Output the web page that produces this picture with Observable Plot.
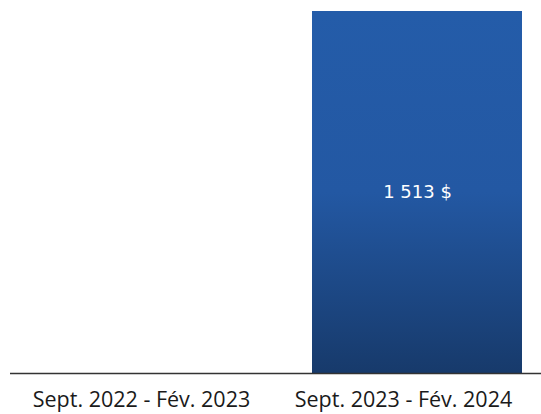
<!DOCTYPE html>
<html>
<head>
<meta charset="utf-8">
<script src="https://cdn.jsdelivr.net/npm/d3@7"></script>
<script src="https://cdn.jsdelivr.net/npm/@observablehq/plot@0.6"></script>
<style>
  html, body { margin: 0; padding: 0; background: #fff; }
  #chart svg { display: block; }
</style>
</head>
<body>
<div id="chart"></div>
<script>
const periods = ["Sept. 2022 - Fév. 2023", "Sept. 2023 - Fév. 2024"];
const amounts = [null, 1513];
const valueLabels = ["", "1 513 $"];

const data = periods.map((p, i) => ({period: p, amount: amounts[i], label: valueLabels[i]}));
const bars = data.filter(d => d.amount != null);

function gradientDefs() {
  const ns = "http://www.w3.org/2000/svg";
  const defs = document.createElementNS(ns, "defs");
  const lg = document.createElementNS(ns, "linearGradient");
  lg.setAttribute("id", "barGrad");
  lg.setAttribute("x1", "0"); lg.setAttribute("y1", "0");
  lg.setAttribute("x2", "0"); lg.setAttribute("y2", "1");
  [["0%", "#245ca9"], ["50%", "#2358a3"], ["100%", "#173a6b"]].forEach(([o, c]) => {
    const s = document.createElementNS(ns, "stop");
    s.setAttribute("offset", o);
    s.setAttribute("stop-color", c);
    lg.appendChild(s);
  });
  defs.appendChild(lg);
  return defs;
}

const chart = Plot.plot({
  width: 541,
  height: 414,
  marginTop: 11,
  marginBottom: 41,
  marginLeft: 10,
  marginRight: 0,
  style: {fontFamily: "'Open Sans', sans-serif", background: "#fff"},
  x: {domain: periods, range: [24, 548], paddingInner: 0.2, paddingOuter: 0.1, label: null},
  y: {domain: [0, 1513], axis: null},
  marks: [
    gradientDefs,
    Plot.barY(bars, {x: "period", y: "amount", fill: "url(#barGrad)"}),
    Plot.text(bars, {x: "period", y: d => d.amount / 2, text: "label", fill: "white",
      fontSize: 18, fontFamily: "'DejaVu Sans', sans-serif"}),
    Plot.ruleY([0], {stroke: "#333", strokeWidth: 1.5}),
    Plot.axisX({tickSize: 0, tickPadding: 18, fontSize: 21.5, dx: -14, fill: "#1a1a1a", label: null})
  ]
});
document.getElementById("chart").appendChild(chart);
</script>
</body>
</html>
